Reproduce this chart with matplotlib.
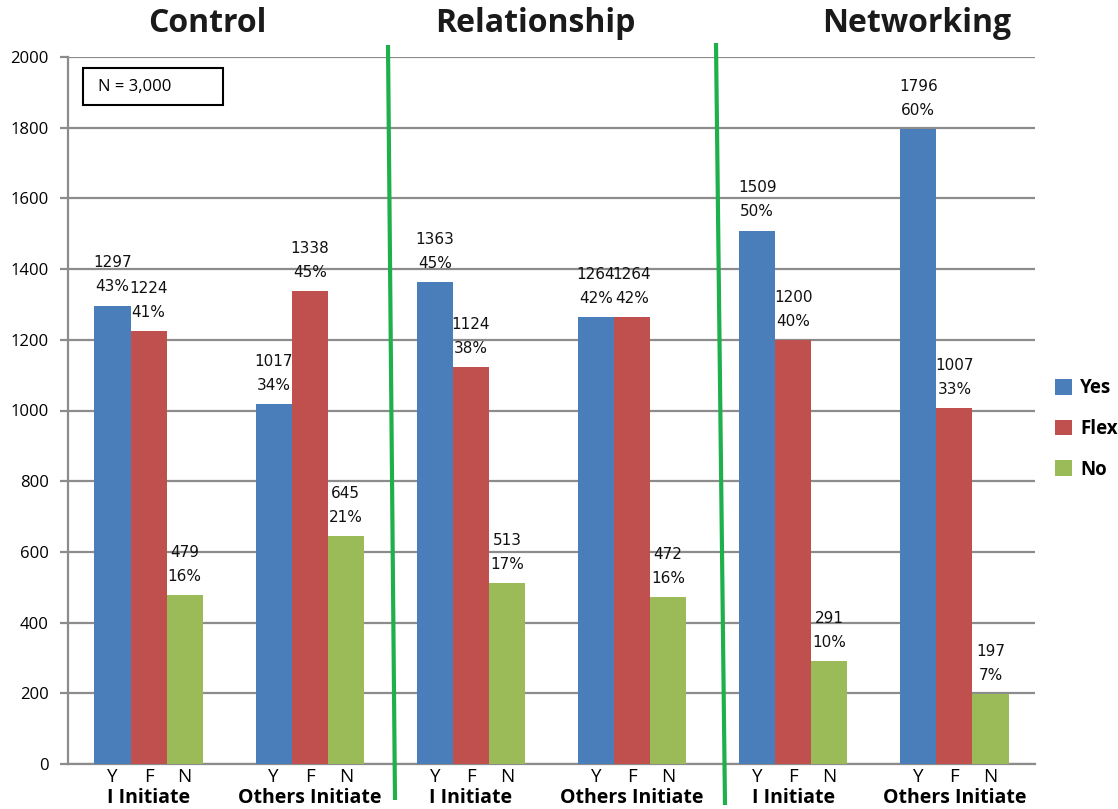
import matplotlib
matplotlib.use("Agg")
import matplotlib.pyplot as plt
import numpy as np
from matplotlib.lines import Line2D
from matplotlib.patches import Rectangle, Patch
from matplotlib.transforms import blended_transform_factory, offset_copy

# Responses by scenario (3,000 respondents)
sections = ["Control", "Relationship", "Networking"]
groups = ["I Initiate", "Others Initiate", "I Initiate", "Others Initiate",
          "I Initiate", "Others Initiate"]
series = ["Yes", "Flex", "No"]
short = ["Y", "F", "N"]
yes_vals = [1297, 1017, 1363, 1264, 1509, 1796]
flex_vals = [1224, 1338, 1124, 1264, 1200, 1007]
no_vals = [479, 645, 513, 472, 291, 197]
yes_pct = ["43%", "34%", "45%", "42%", "50%", "60%"]
flex_pct = ["41%", "45%", "38%", "42%", "40%", "33%"]
no_pct = ["16%", "21%", "17%", "16%", "10%", "7%"]
colors = ["#4A7EBB", "#C0504D", "#9BBB59"]

W, H = 1118, 809
fig = plt.figure(figsize=(W / 100, H / 100), dpi=100)
ax = fig.add_axes([68 / W, 1 - 764 / H, (1035 - 68) / W, (764 - 57) / H])

FONT = "Open Sans"
grid_c = "#8C8C8C"

x = np.arange(len(groups))
bw = 0.224
values = [yes_vals, flex_vals, no_vals]
pcts = [yes_pct, flex_pct, no_pct]
for k, (vals, pc) in enumerate(zip(values, pcts)):
    pos = x + (k - 1) * bw
    ax.bar(pos, vals, width=bw, color=colors[k], zorder=3, label=series[k])
    for xi, v, p in zip(pos, vals, pc):
        ax.annotate(f"{v}\n{p}", (xi, v), xytext=(0, 8), textcoords="offset points",
                    ha="center", va="bottom", fontsize=11, family="DejaVu Sans",
                    linespacing=1.75, color="#111111")

ax.set_xlim(-0.5, len(groups) - 0.5)
ax.set_ylim(0, 2000)
ax.set_yticks(np.arange(0, 2001, 200))
ax.yaxis.grid(True, color=grid_c, linewidth=1.6, zorder=0)
ax.set_axisbelow(True)
ax.tick_params(axis="y", length=6, width=1.6, color=grid_c, labelsize=12, pad=8)
for lbl in ax.get_yticklabels():
    lbl.set_family(FONT)

# bar-level tick labels (Y / F / N)
tick_pos = np.concatenate([x + (k - 1) * bw for k in range(3)])
tick_lab = [s for s in short for _ in groups]
ax.set_xticks(tick_pos)
ax.set_xticklabels(tick_lab, fontsize=13.5, family=FONT)
ax.tick_params(axis="x", length=0, pad=3)

for s in ["top", "right"]:
    ax.spines[s].set_visible(False)
for s in ["left", "bottom"]:
    ax.spines[s].set_color(grid_c)
    ax.spines[s].set_linewidth(1.6)

# group labels below the letters
tr = blended_transform_factory(ax.transData, ax.transAxes)
for xi, g in zip(x, groups):
    ax.text(xi, 0, g, transform=offset_copy(tr, fig=fig, x=0, y=-24, units="dots"),
            ha="center", va="top", fontsize=14, fontweight="bold", family=FONT)

# section titles
for xc, name in zip([207, 535, 917], sections):
    fig.text(xc / W, 1 - 24 / H, name, ha="center", va="center",
             fontsize=23, fontweight="bold", family=FONT, color="#1a1a1a")

# dividers between sections
for (x0, y0, x1, y1) in [(388, 45, 395, 800), (716, 43, 725, 805)]:
    fig.add_artist(Line2D([x0 / W, x1 / W], [1 - y0 / H, 1 - y1 / H],
                          transform=fig.transFigure, color="#1DB04B",
                          linewidth=3, solid_capstyle="butt", zorder=10))

# sample-size box
fig.add_artist(Rectangle((83 / W, 1 - 105 / H), 140 / W, 37 / H,
                         transform=fig.transFigure, fill=False,
                         edgecolor="black", linewidth=1.5, zorder=10))
fig.text(98 / W, 1 - 87 / H, "N = 3,000", ha="left", va="center",
         fontsize=12, family=FONT)

# legend
handles = [Patch(facecolor=c, edgecolor="none") for c in colors]
leg = fig.legend(handles, series, loc="center left",
                 bbox_to_anchor=(1055 / W, 1 - 429 / H), frameon=False,
                 borderpad=0, borderaxespad=0,
                 prop={"family": FONT, "weight": "bold", "size": 13.5},
                 handlelength=0.9, handleheight=0.9, handletextpad=0.45,
                 labelspacing=1.1)

fig.savefig("out.png", dpi=100)
